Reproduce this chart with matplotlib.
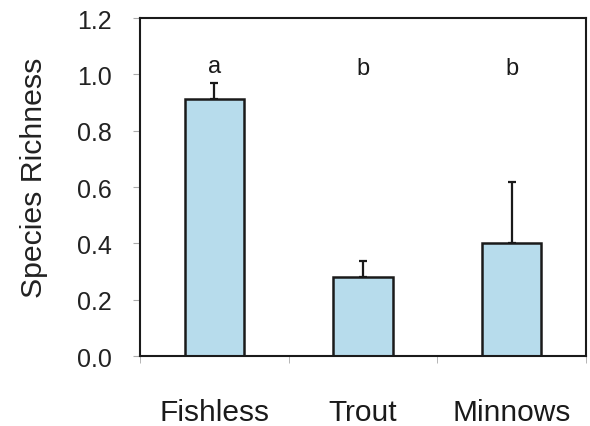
import matplotlib
matplotlib.use("Agg")
import matplotlib.pyplot as plt
from matplotlib.ticker import FormatStrFormatter

plt.rcParams['font.family'] = ['Liberation Sans', 'DejaVu Sans']

# Données
categories = ["Fishless", "Trout", "Minnows"]
richness = [0.912, 0.279, 0.400]
err_up = [0.056, 0.058, 0.217]
letters = ["a", "b", "b"]
letter_y = [1.01, 1.0, 1.0]

BAR_COLOR = '#b7dcec'

fig = plt.figure(figsize=(5.9, 4.27), dpi=100)
ax = fig.add_axes([0.2373, 0.1639, 0.7559, 0.7916])

x = list(range(1, len(categories) + 1))
ax.bar(x, richness, width=0.40, color=BAR_COLOR, edgecolor='#1a1a1a', linewidth=1.8, zorder=2)
ax.errorbar(x, richness, yerr=[[0] * len(err_up), err_up], fmt='none',
            ecolor='#1a1a1a', elinewidth=1.6, capsize=3, capthick=1.6, zorder=1)

for xi, lab, ly in zip(x, letters, letter_y):
    ax.text(xi, ly, lab, ha='center', va='baseline', fontsize=17, color='#1a1a1a')

ax.set_xlim(0.5, 3.5)
ax.set_ylim(0, 1.2)
ax.set_yticks([0.0, 0.2, 0.4, 0.6, 0.8, 1.0, 1.2])
ax.yaxis.set_major_formatter(FormatStrFormatter('%.1f'))
ax.set_xticks(x)
ax.set_xticklabels(categories)
ax.set_xticks([0.5, 1.5, 2.5, 3.5], minor=True)

ax.tick_params(axis='x', which='major', length=0, pad=30, labelsize=21.5, labelcolor='#1a1a1a')
ax.tick_params(axis='x', which='minor', length=5, color='#aaaaaa', direction='out')
ax.tick_params(axis='y', length=5, color='#aaaaaa', pad=15, labelsize=18, labelcolor='#222222')

ax.set_ylabel("Species Richness", fontsize=21.8, color='#222222')
ax.yaxis.set_label_coords(-0.207, 0.53)

for sp in ax.spines.values():
    sp.set_linewidth(1.5)
    sp.set_color('#1a1a1a')

fig.savefig("out.png", dpi=100)
plt.close(fig)
